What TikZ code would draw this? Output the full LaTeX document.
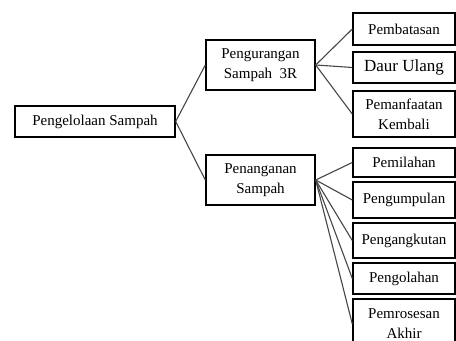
\documentclass[tikz,border=0pt]{standalone}
\usepackage{fontspec}
\setmainfont{Liberation Serif}
\usepackage{xcolor}
\usepackage{tikz}
\usetikzlibrary{positioning, calc}
\definecolor{linegray}{RGB}{70,70,70}
\tikzset{every node/.append style={align=center}}
\tikzset{
  main/.style={rectangle, draw=black, line width=0.7pt, fill=white,
    minimum width=80pt, minimum height=15.5pt, inner sep=1pt,
    font=\fontsize{7.5}{9}\selectfont},
  sub/.style={rectangle, draw=black, line width=0.7pt, fill=white,
    minimum width=54.5pt, minimum height=25pt, inner sep=1pt,
    font=\fontsize{7.5}{10}\selectfont},
  leaf/.style={rectangle, draw=black, line width=0.7pt, fill=white,
    minimum width=51pt, inner sep=1pt,
    font=\fontsize{7.5}{10}\selectfont},
  link/.style={draw=linegray, line width=0.55pt}
}

\begin{document}
\begin{tikzpicture}[x=0.5pt, y=-0.5pt]
  \useasboundingbox (0,0) rectangle (456,341);
  \clip (0,0) rectangle (456,341);
  \node[main] (root) at (95,121.5) {Pengelolaan Sampah};
  \node[sub] (kurang) at (260.5,65) {Pengurangan\\Sampah\ \ 3R};
  \node[sub] (tangan) at (260.5,180) {Penanganan\\Sampah};
  % cabang pengurangan
  \node[leaf, minimum height=16pt] (batas) at (404,29) {Pembatasan};
  \node[leaf, minimum height=15.5pt, font=\fontsize{8.5}{10}\selectfont] (daur) at (404,67.5) {Daur Ulang};
  \node[leaf, minimum height=23pt] (manfaat) at (404,114) {Pemanfaatan\\Kembali};
  % cabang penanganan
  \node[leaf, minimum height=14.5pt] (pilah) at (404,162.5) {Pemilahan};
  \node[leaf, minimum height=18pt] (kumpul) at (404,200) {Pengumpulan};
  \node[leaf, minimum height=17.5pt] (angkut) at (404,240.5) {Pengangkutan};
  \node[leaf, minimum height=15.5pt] (olah) at (404,278.5) {Pengolahan};
  \node[leaf, minimum height=25pt] (proses) at (404,324) {Pemrosesan\\Akhir};
  \draw[link] (root.east) -- (kurang.west);
  \draw[link] (root.east) -- (tangan.west);
  \foreach \n in {batas, daur, manfaat}
    \draw[link] (kurang.east) -- (\n.west);
  \foreach \n in {pilah, kumpul, angkut, olah, proses}
    \draw[link] (tangan.east) -- (\n.west);
\end{tikzpicture}
\end{document}
